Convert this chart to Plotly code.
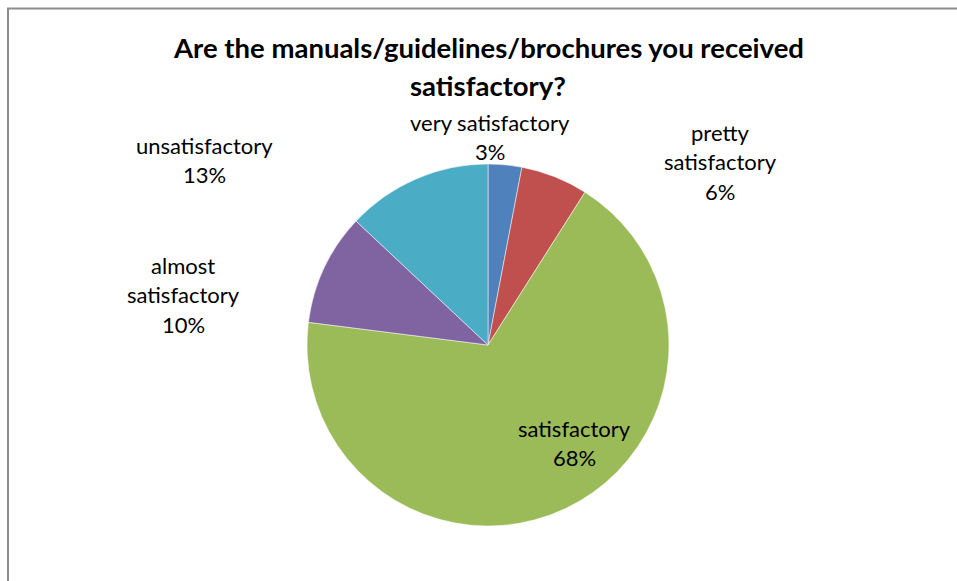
import plotly.graph_objects as go

# Survey answers and their counts (percent of respondents)
categories = ["very satisfactory", "pretty satisfactory", "satisfactory",
              "almost satisfactory", "unsatisfactory"]
values = [3, 6, 68, 10, 13]
colors = ["#4F81BD", "#C0504D", "#9BBB59", "#8064A2", "#4BACC6"]

# Label text lines (category name split the way it is printed) and centre pixel of each block
label_lines = [["very satisfactory"], ["pretty", "satisfactory"], ["satisfactory"],
               ["almost", "satisfactory"], ["unsatisfactory"]]
label_pos = [(490, 122), (720, 132), (574, 428), (183, 265), (204, 145)]

W, H = 957, 581
LINE = 29.5

def px(x):
    return x / W

def py(y):
    return 1 - y / H

total = sum(values)
cx, cy, r = 488, 345, 181

fig = go.Figure(go.Pie(
    labels=categories,
    values=values,
    marker=dict(colors=colors, line=dict(color="white", width=0.5)),
    sort=False,
    direction="clockwise",
    rotation=0,
    textinfo="none",
    hoverinfo="label+percent",
    showlegend=False,
    domain=dict(x=[px(cx - r), px(cx + r)], y=[py(cy + r), py(cy - r)]),
))

annotations = []
for lines, val, (lx, ly) in zip(label_lines, values, label_pos):
    pct = f"{round(100 * val / total)}%"
    for i, t in enumerate(lines + [pct]):
        annotations.append(dict(
            x=px(lx), y=py(ly + i * LINE), xref="paper", yref="paper",
            text=t, showarrow=False, xanchor="center", yanchor="middle",
            font=dict(family="Lato", size=22, color="#000000"),
        ))

# Two-line bold title
for i, t in enumerate(["Are the manuals/guidelines/brochures you received", "satisfactory?"]):
    annotations.append(dict(
        x=px(488), y=py(48 + i * 37), xref="paper", yref="paper",
        text=f"<b>{t}</b>", showarrow=False, xanchor="center", yanchor="middle",
        font=dict(family="Lato", size=27.5, color="#000000"),
    ))

fig.update_layout(
    width=W, height=H,
    margin=dict(l=0, r=0, t=0, b=0),
    paper_bgcolor="white",
    plot_bgcolor="white",
    annotations=annotations,
    shapes=[dict(type="rect", xref="paper", yref="paper",
                 x0=px(8), x1=px(W + 20), y0=py(H + 20), y1=py(8.5),
                 line=dict(color="#8C8C8C", width=2), fillcolor="rgba(0,0,0,0)")],
)

fig.write_html("out.html")
